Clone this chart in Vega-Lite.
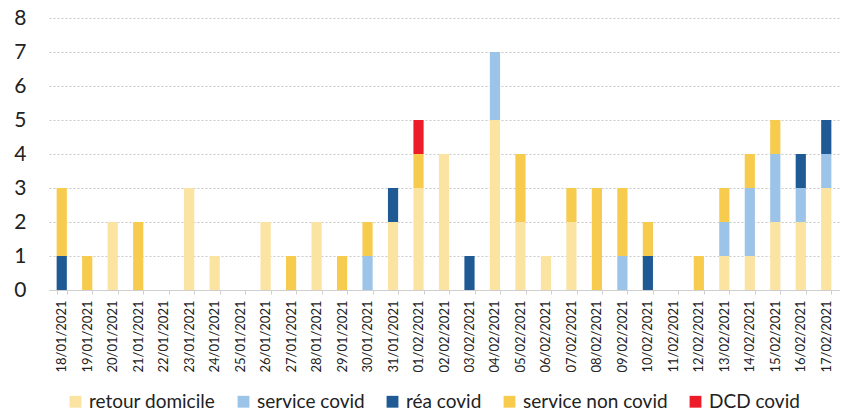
{
  "$schema": "https://vega.github.io/schema/vega-lite/v6.json",
  "autosize": {"type": "none"},
  "padding": {"left": 49, "top": 18, "right": 7, "bottom": 124},
  "width": 790,
  "height": 272,
  "background": "white",
  "config": {"font": "Lato", "view": {"stroke": null}},
  "data": {"values": [
    {"date": "18/01/2021", "cat": "réa covid", "n": 1},
    {"date": "18/01/2021", "cat": "service non covid", "n": 2},
    {"date": "19/01/2021", "cat": "service non covid", "n": 1},
    {"date": "20/01/2021", "cat": "retour domicile", "n": 2},
    {"date": "21/01/2021", "cat": "service non covid", "n": 2},
    {"date": "23/01/2021", "cat": "retour domicile", "n": 3},
    {"date": "24/01/2021", "cat": "retour domicile", "n": 1},
    {"date": "26/01/2021", "cat": "retour domicile", "n": 2},
    {"date": "27/01/2021", "cat": "service non covid", "n": 1},
    {"date": "28/01/2021", "cat": "retour domicile", "n": 2},
    {"date": "29/01/2021", "cat": "service non covid", "n": 1},
    {"date": "30/01/2021", "cat": "service covid", "n": 1},
    {"date": "30/01/2021", "cat": "service non covid", "n": 1},
    {"date": "31/01/2021", "cat": "retour domicile", "n": 2},
    {"date": "31/01/2021", "cat": "réa covid", "n": 1},
    {"date": "01/02/2021", "cat": "retour domicile", "n": 3},
    {"date": "01/02/2021", "cat": "service non covid", "n": 1},
    {"date": "01/02/2021", "cat": "DCD covid", "n": 1},
    {"date": "02/02/2021", "cat": "retour domicile", "n": 4},
    {"date": "03/02/2021", "cat": "réa covid", "n": 1},
    {"date": "04/02/2021", "cat": "retour domicile", "n": 5},
    {"date": "04/02/2021", "cat": "service covid", "n": 2},
    {"date": "05/02/2021", "cat": "retour domicile", "n": 2},
    {"date": "05/02/2021", "cat": "service non covid", "n": 2},
    {"date": "06/02/2021", "cat": "retour domicile", "n": 1},
    {"date": "07/02/2021", "cat": "retour domicile", "n": 2},
    {"date": "07/02/2021", "cat": "service non covid", "n": 1},
    {"date": "08/02/2021", "cat": "service non covid", "n": 3},
    {"date": "09/02/2021", "cat": "service covid", "n": 1},
    {"date": "09/02/2021", "cat": "service non covid", "n": 2},
    {"date": "10/02/2021", "cat": "réa covid", "n": 1},
    {"date": "10/02/2021", "cat": "service non covid", "n": 1},
    {"date": "12/02/2021", "cat": "service non covid", "n": 1},
    {"date": "13/02/2021", "cat": "retour domicile", "n": 1},
    {"date": "13/02/2021", "cat": "service covid", "n": 1},
    {"date": "13/02/2021", "cat": "service non covid", "n": 1},
    {"date": "14/02/2021", "cat": "retour domicile", "n": 1},
    {"date": "14/02/2021", "cat": "service covid", "n": 2},
    {"date": "14/02/2021", "cat": "service non covid", "n": 1},
    {"date": "15/02/2021", "cat": "retour domicile", "n": 2},
    {"date": "15/02/2021", "cat": "service covid", "n": 2},
    {"date": "15/02/2021", "cat": "service non covid", "n": 1},
    {"date": "16/02/2021", "cat": "retour domicile", "n": 2},
    {"date": "16/02/2021", "cat": "service covid", "n": 1},
    {"date": "16/02/2021", "cat": "réa covid", "n": 1},
    {"date": "17/02/2021", "cat": "retour domicile", "n": 3},
    {"date": "17/02/2021", "cat": "service covid", "n": 1},
    {"date": "17/02/2021", "cat": "réa covid", "n": 1}
  ]},
  "transform": [
    {"calculate": "indexof(['retour domicile','service covid','réa covid','service non covid','DCD covid'], datum.cat)", "as": "k"}
  ],
  "mark": {"type": "bar"},
  "encoding": {
    "x": {
      "field": "date", "type": "nominal", "title": null,
      "scale": {
        "domain": ["18/01/2021","19/01/2021","20/01/2021","21/01/2021","22/01/2021","23/01/2021","24/01/2021","25/01/2021","26/01/2021","27/01/2021","28/01/2021","29/01/2021","30/01/2021","31/01/2021","01/02/2021","02/02/2021","03/02/2021","04/02/2021","05/02/2021","06/02/2021","07/02/2021","08/02/2021","09/02/2021","10/02/2021","11/02/2021","12/02/2021","13/02/2021","14/02/2021","15/02/2021","16/02/2021","17/02/2021"],
        "paddingInner": 0.6, "paddingOuter": 0.3
      },
      "axis": {
        "labelAngle": -90, "labelFontSize": 13, "labelColor": "#222",
        "labelPadding": 6,
        "domainColor": "#cfcfcf", "tickColor": "#cfcfcf", "tickSize": 4,
        "tickBand": "extent"
      }
    },
    "y": {
      "field": "n", "type": "quantitative", "aggregate": "sum", "stack": "zero", "title": null,
      "scale": {"domain": [0, 8]},
      "axis": {
        "values": [0,1,2,3,4,5,6,7,8], "labelFontSize": 21, "labelColor": "#222",
        "labelPadding": 23, "domain": false, "ticks": false,
        "gridColor": "#c8c8c8", "gridDash": [2, 2], "gridWidth": 1
      }
    },
    "color": {
      "field": "cat", "type": "nominal", "title": null,
      "scale": {
        "domain": ["retour domicile","service covid","réa covid","service non covid","DCD covid"],
        "range": ["#fbe3a2","#9cc4e8","#1f5a94","#f7cb4d","#ec1c2a"]
      },
      "legend": {
        "orient": "none", "direction": "horizontal", "legendX": 17, "legendY": 374,
        "labelFontSize": 19, "labelColor": "#222", "symbolType": "square", "symbolSize": 140,
        "symbolStrokeWidth": 0, "columnPadding": 18, "labelOffset": 4
      }
    },
    "order": {"field": "k", "type": "quantitative", "sort": "ascending"}
  }
}
